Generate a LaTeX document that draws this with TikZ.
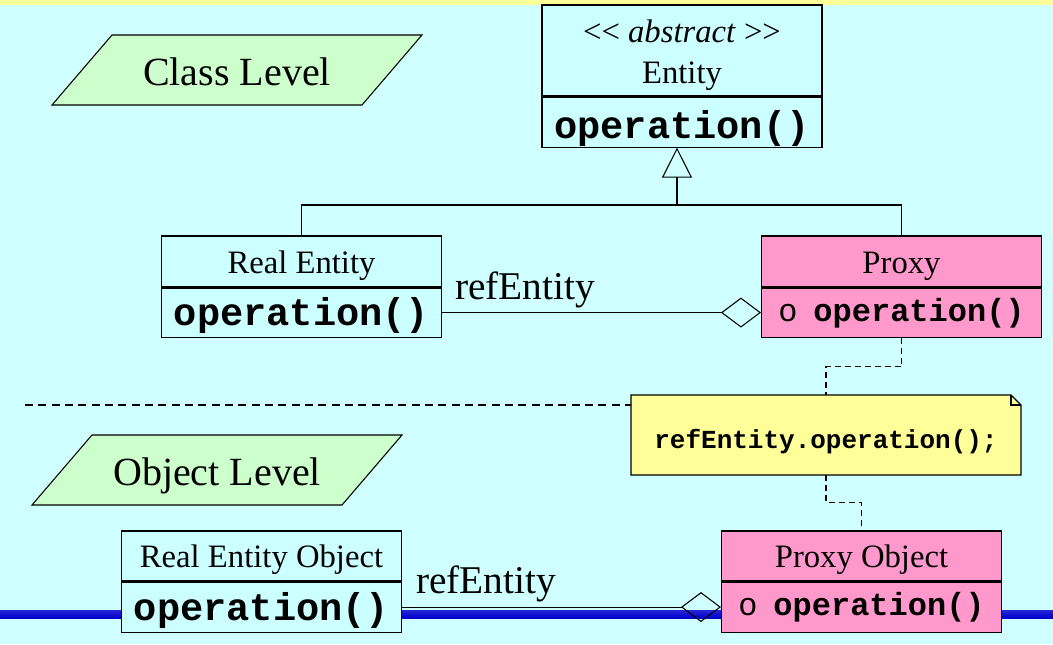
\documentclass[tikz,border=0pt]{standalone}
\usepackage{fontspec}
\setmainfont{Liberation Serif}
\setmonofont{Liberation Mono}
\usetikzlibrary{arrows.meta, positioning}

\definecolor{bgcyan}{RGB}{208,255,255}
\definecolor{boxcyan}{RGB}{204,255,255}
\definecolor{proxypink}{RGB}{255,153,204}
\definecolor{noteyellow}{RGB}{255,255,153}
\definecolor{levelgreen}{RGB}{204,255,204}
\definecolor{barblue}{RGB}{0,0,205}

\tikzset{
  classbox/.style={draw=black, line width=0.8pt, inner sep=0pt, minimum width=210pt, align=center},
  realpart/.style={classbox, fill=boxcyan},
  proxypart/.style={classbox, fill=proxypink},
  namefont/.style={font=\fontsize{24.5}{30}\selectfont, text height=17.5pt, text depth=0pt},
  opfont/.style={font=\fontsize{29}{32}\selectfont\ttfamily\bfseries, text height=20pt, text depth=0pt},
  proxyopfont/.style={font=\fontsize{24}{28}\selectfont\ttfamily\bfseries, text height=12.8pt, text depth=0pt},
  rolefont/.style={font=\fontsize{29.5}{32}\selectfont},
  levelfont/.style={font=\fontsize{30}{34}\selectfont, text height=20.4pt, text depth=0pt},
  link/.style={line width=0.8pt},
  notelink/.style={line width=0.8pt, dash pattern=on 4.5pt off 3pt},
}

\begin{document}
\begin{tikzpicture}[x=0.75pt, y=-0.75pt]
\useasboundingbox (0,0) rectangle (1053,644);
% background and bands
\fill [bgcyan] (0,0) rectangle (1053,644);
\fill [noteyellow] (0,0) rectangle (1053,5);
\shade [top color=barblue!85!white, middle color=barblue!85!black, bottom color=barblue] (0,610) rectangle (1053,618);

% level labels
\draw [fill=levelgreen, line width=0.8pt] (112,35) -- (422,35) -- (362,105) -- (52,105) -- cycle;
\node (classlevel) at (237,72) [levelfont] {Class Level};
\draw [fill=levelgreen, line width=0.8pt] (92,435) -- (402,435) -- (342,505) -- (32,505) -- cycle;
\node (objectlevel) at (217,472) [levelfont] {Object Level};

% class level
\node (entityT) at (682,50.5) [realpart, font=\fontsize{24.5}{30.5}\selectfont, minimum height=68.25pt] {\rule{0pt}{24pt}<\kern0pt<\ \textit{abstract} >\kern0pt>\\Entity};
\node (entityB) [realpart, opfont, text height=25pt, minimum height=37.5pt, below=0pt of entityT] {operation()};
\node (realT) at (301.5,261.5) [realpart, namefont, minimum height=38.25pt] {Real Entity};
\node (realB) [realpart, opfont, minimum height=36.75pt, below=0pt of realT] {operation()};
\node (proxyT) at (901.5,261.5) [proxypart, namefont, minimum height=38.25pt] {Proxy};
\node (proxyB) [proxypart, proxyopfont, minimum height=36.75pt, below=0pt of proxyT] {{\mdseries o}\hspace{12pt}operation()};

\coordinate (join) at (677,205);
\draw [link, -{Triangle[open, length=22.5pt, width=22.5pt]}] (join) -- (join |- entityB.south);
\draw [link] (realT.north) |- (join) -| (proxyT.north);
\draw [link, -{Diamond[open, length=30pt, width=22.5pt]}] (realB) -- (proxyB);
\node (roleA) at (525,290) [rolefont] {refEntity};

% note
\draw [fill=noteyellow, line width=0.8pt] (631,395) -- (1011,395) -- (1021,405) -- (1021,475) -- (631,475) -- cycle;
\draw [line width=0.8pt] (1011,395) -- (1011,405) -- (1021,405);
\node (note) at (826,435) [minimum width=292.5pt, minimum height=60pt, inner sep=0pt, text height=19.5pt, text depth=0pt, font=\fontsize{19.5}{22}\selectfont\ttfamily\bfseries] {refEntity.operation();};
\coordinate (divL) at (25,405);
\draw [line width=0.8pt, dash pattern=on 6pt off 4pt] (divL) -- (divL -| note.west);

% object level
\node (realobjT) at (261.5,556) [realpart, namefont, minimum height=37.5pt] {Real Entity Object};
\node (realobjB) [realpart, opfont, minimum height=37.5pt, below=0pt of realobjT] {operation()};
\node (proxyobjT) at (861.5,556) [proxypart, namefont, minimum height=37.5pt] {Proxy Object};
\node (proxyobjB) [proxypart, proxyopfont, minimum height=37.5pt, below=0pt of proxyobjT] {{\mdseries o}\hspace{12pt}operation()};
\draw [link, -{Diamond[open, length=30pt, width=22.5pt]}] (realobjB) -- (proxyobjB);
\node (roleB) at (486,584) [rolefont] {refEntity};

\draw [notelink] (proxyB.south) -- ++(0,29) -| (note.north);
\draw [notelink] (note.south) -- ++(0,27) -| (proxyobjT.north);
\end{tikzpicture}
\end{document}
